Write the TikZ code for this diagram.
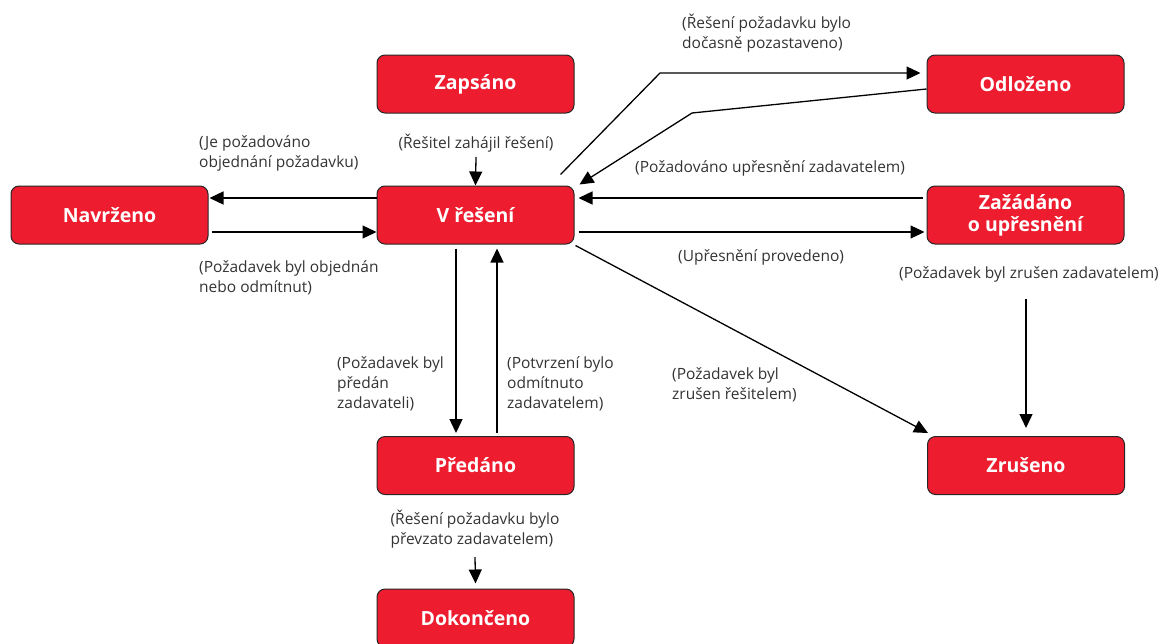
\documentclass[tikz,border=0pt]{standalone}
\usepackage{fontspec}
\setmainfont{Open Sans}
\usetikzlibrary{arrows.meta,calc}
\definecolor{boxred}{RGB}{237,28,46}
\definecolor{labgray}{RGB}{51,51,51}
\begin{document}
\begin{tikzpicture}[x=1pt,y=-1pt,
  state/.style={draw=black!85,line width=1pt,rounded corners=8pt,fill=boxred,
    minimum width=197pt,minimum height=58pt,text=white,align=center,inner sep=0pt,
    font=\bfseries\fontsize{19.5}{22}\selectfont},
  lab/.style={text=labgray,align=left,inner sep=0pt,font=\fontsize{15.5}{20}\selectfont},
  arr/.style={line width=1.3pt,-{Triangle[length=14pt,width=13pt]}}]
\useasboundingbox (0,0) rectangle (1170,643);
% states
\node[state] (zap) at (475.5,84) {Zapsáno};
\node[state] (vres) at (475.5,215) {V řešení};
\node[state] (nav) at (109.5,215) {Navrženo};
\node[state] (odl) at (1025.5,84) {Odloženo};
\node[state] (zaz) at (1025.5,215) {Zažádáno\\o upřesnění};
\node[state] (zru) at (1026,465.5) {Zrušeno};
\node[state] (pre) at (475.5,465.5) {Předáno};
\node[state] (dok) at (475.5,618) {Dokončeno};
% labels
\node[lab] (l1) at (476,143) {(Řešitel zahájil řešení)};
\node[lab,anchor=west] (l2) at (199,153) {(Je požadováno\\objednání požadavku)};
\node[lab,anchor=west] (l3) at (199,278) {(Požadavek byl objednán\\nebo odmítnut)};
\node[lab,anchor=west] (l4) at (682,33) {(Řešení požadavku bylo\\dočasně pozastaveno)};
\node[lab,anchor=west] (l5) at (635,168) {(Požadováno upřesnění zadavatelem)};
\node[lab,anchor=west] (l6) at (678,257) {(Upřesnění provedeno)};
\node[lab,anchor=west] (l7) at (672,385) {(Požadavek byl\\zrušen řešitelem)};
\node[lab] (l8) at (1029,274) {(Požadavek byl zrušen zadavatelem)};
\node[lab,anchor=east] (l9) at (444,384) {(Požadavek byl\\předán\\zadavateli)};
\node[lab,anchor=west] (l10) at (507,384) {(Potvrzení bylo\\odmítnuto\\zadavatelem)};
\node[lab] (l11) at (475,529) {(Řešení požadavku bylo\\převzato zadavatelem)};
% coordinates for bends
\coordinate (b1) at (660,73);
\coordinate (b2) at (692,113);
% connectors
\draw[arr] (l1.south |- 0,157) -- (vres.north);
\draw[arr] ([yshift=17pt]vres.west) -- ([yshift=17pt,xshift=1pt]nav.east);
\draw[arr] ([yshift=-17pt,xshift=3pt]nav.east) -- ([yshift=-17pt]vres.west);
\draw[arr] ([shift={(-14pt,11pt)}]vres.north east) -- (b1) -- ([yshift=11pt,xshift=-6pt]odl.west);
\draw[arr] ([yshift=-5pt]odl.west) -- (b2) -- ([shift={(5pt,1pt)}]vres.north east);
\draw[arr] ([yshift=17pt,xshift=-4pt]zaz.west) -- ([yshift=17pt,xshift=4pt]vres.east);
\draw[arr] ([yshift=-17pt,xshift=4pt]vres.east) -- ([yshift=-17pt,xshift=-2pt]zaz.west);
\draw[arr] ([shift={(1pt,-1pt)}]vres.south east) -- ([shift={(1pt,3pt)}]zru.north west);
\draw[arr] (zru.north |- 0,299) -- ([yshift=8pt]zru.north);
\draw[arr] ([xshift=-19.5pt,yshift=-4pt]vres.south) -- ([xshift=-19.5pt,yshift=3pt]pre.north);
\draw[arr] ([xshift=21.5pt,yshift=3pt]pre.north) -- ([xshift=21.5pt,yshift=-4pt]vres.south);
\draw[arr] (l11.south |- 0,557) -- ([yshift=5pt]dok.north);
\end{tikzpicture}
\end{document}
